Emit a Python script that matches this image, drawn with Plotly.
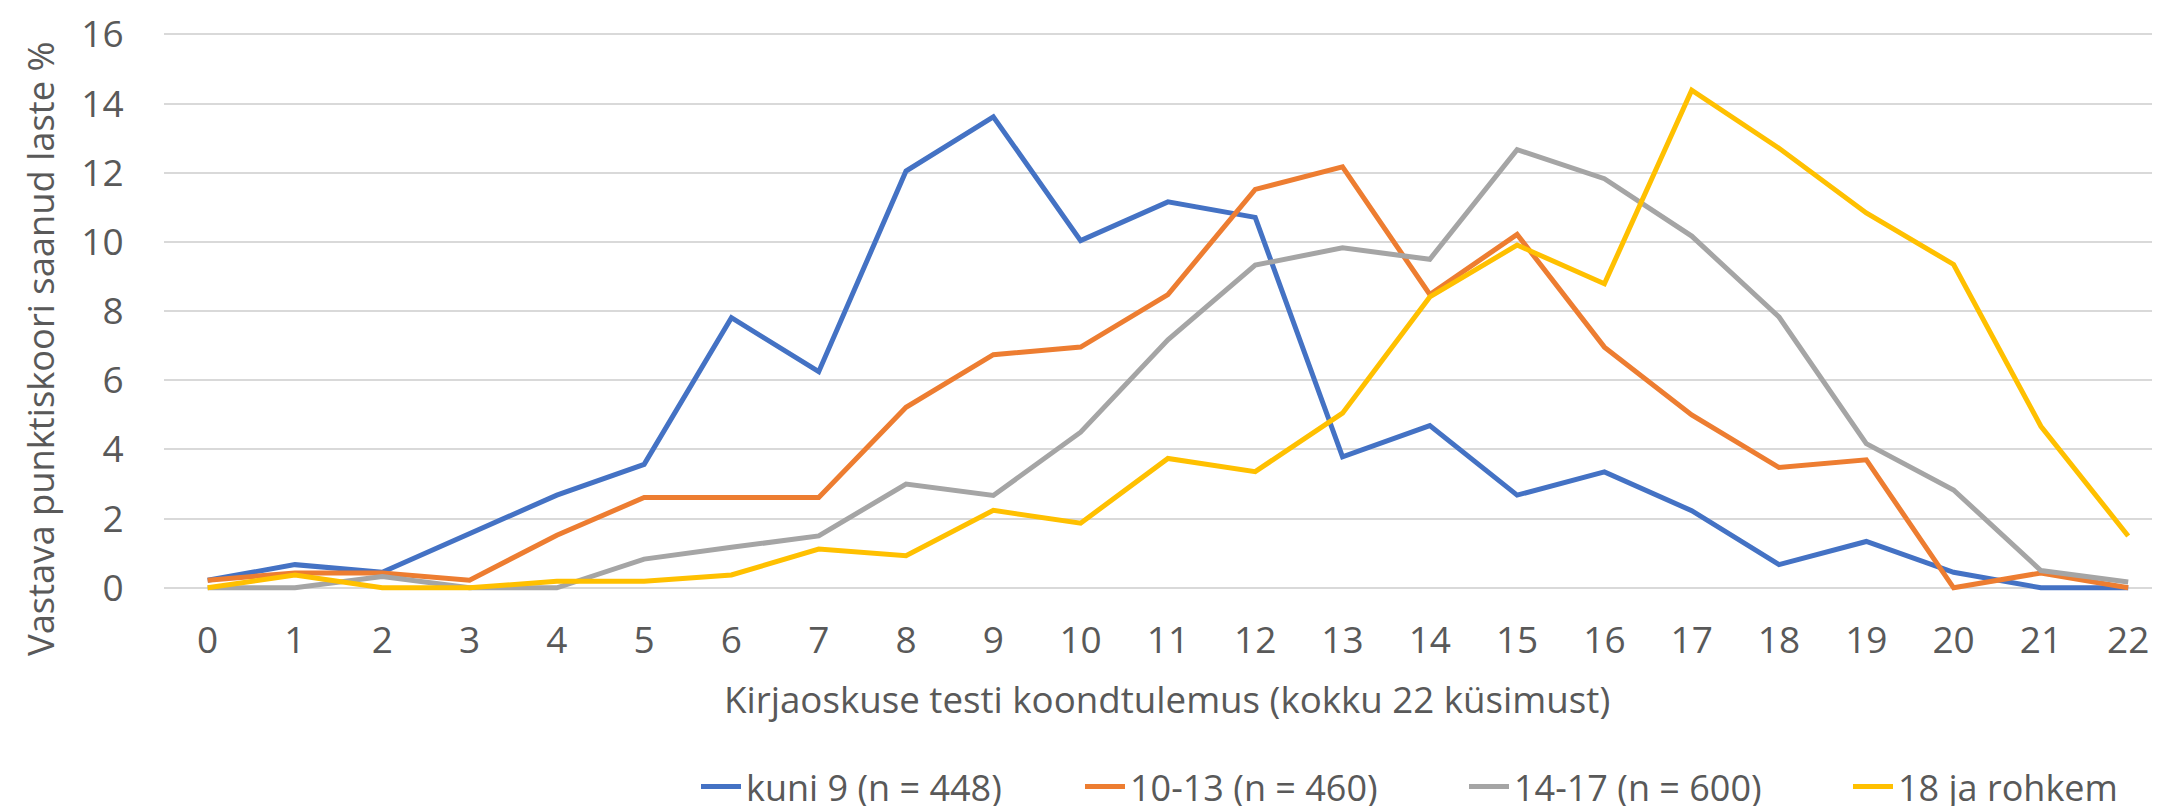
import plotly.graph_objects as go

scores = list(range(23))
kuni9 = [0.22, 0.67, 0.45, 1.56, 2.68, 3.57, 7.81, 6.25, 12.05, 13.62, 10.04, 11.16, 10.71, 3.79, 4.69, 2.68, 3.35, 2.23, 0.67, 1.34, 0.45, 0, 0]
g10_13 = [0.22, 0.43, 0.43, 0.22, 1.52, 2.61, 2.61, 2.61, 5.22, 6.74, 6.96, 8.48, 11.52, 12.17, 8.48, 10.22, 6.96, 5.00, 3.48, 3.70, 0, 0.43, 0]
g14_17 = [0, 0, 0.33, 0, 0, 0.83, 1.17, 1.50, 3.00, 2.67, 4.50, 7.17, 9.33, 9.83, 9.50, 12.67, 11.83, 10.17, 7.83, 4.17, 2.83, 0.50, 0.17]
g18 = [0, 0.37, 0, 0, 0.19, 0.19, 0.37, 1.12, 0.93, 2.24, 1.87, 3.74, 3.36, 5.05, 8.41, 9.91, 8.79, 14.39, 12.71, 10.84, 9.35, 4.67, 1.50]

series_names = ["kuni 9 (n = 448)", "10-13 (n = 460)", "14-17 (n = 600)", "18 ja rohkem"]
series_colors = ["#4472C4", "#ED7D31", "#A5A5A5", "#FFC000"]
series_values = [kuni9, g10_13, g14_17, g18]

y_ticks = [0, 2, 4, 6, 8, 10, 12, 14, 16]
x_title = "Kirjaoskuse testi koondtulemus (kokku 22 küsimust)"
y_title = "Vastava punktiskoori saanud laste %"

FONT = "Open Sans, sans-serif"
TXT = "#595959"
CLEAR = "rgba(0,0,0,0)"

fig = go.Figure()
for name, col, vals in zip(series_names, series_colors, series_values):
    fig.add_trace(go.Scatter(x=scores, y=vals, mode="lines", name=name,
                             line=dict(color=col, width=5)))

W, H = 2160, 806
left = 156
y_lo, y_hi = -0.15, 16.1
unit = (580 - 26.3) / 16
top_px = 26.3 - (y_hi - 16) * unit
bottom_px = 580 - y_lo * unit
ph = bottom_px - top_px
pw = W - left

def px_x(v):
    return (v - left) / pw

def px_y(v):
    return (bottom_px - v) / ph

fig.update_layout(
    width=W, height=H,
    margin=dict(l=left, r=0, t=top_px, b=H - bottom_px, pad=0, autoexpand=False),
    paper_bgcolor="white", plot_bgcolor="white",
    font=dict(family=FONT, size=36, color=TXT),
    xaxis=dict(range=[-0.5, 22.456], tickmode="array", tickvals=scores,
               ticktext=[str(s) for s in scores], showgrid=False, zeroline=False,
               showline=False, ticks="outside", ticklen=15, tickcolor=CLEAR,
               tickfont=dict(size=37, color=TXT), ticklabeloverflow="allow"),
    yaxis=dict(range=[y_lo, y_hi], tickmode="array", tickvals=y_ticks,
               showgrid=True, gridcolor="#D9D9D9", gridwidth=1.7, zeroline=False,
               showline=False, ticks="outside", ticklen=32, tickcolor=CLEAR,
               tickfont=dict(size=37, color=TXT), ticklabeloverflow="allow"),
    legend=dict(orientation="h", x=px_x(688), xanchor="left",
                y=px_y(779), yanchor="middle",
                font=dict(size=36, color=TXT), entrywidth=329, entrywidthmode="pixels",
                itemwidth=40, bgcolor=CLEAR),
    showlegend=True,
    annotations=[
        dict(text=y_title, textangle=-90, xref="paper", yref="paper",
             x=px_x(32), y=px_y(341),
             xanchor="center", yanchor="middle", showarrow=False,
             font=dict(size=36.3, color=TXT, family=FONT)),
        dict(text=x_title, xref="paper", yref="paper",
             x=px_x(1158.5), y=px_y(691),
             xanchor="center", yanchor="middle", showarrow=False,
             font=dict(size=36.7, color=TXT, family=FONT)),
    ],
)
fig.write_html("out.html")
